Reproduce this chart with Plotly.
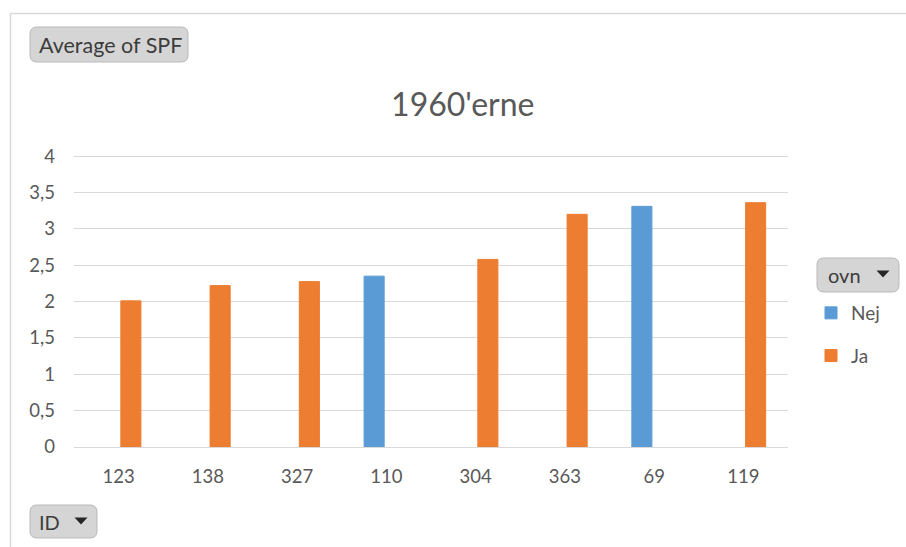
import plotly.graph_objects as go

# Pivot data: average SPF per house ID, split by "ovn" (oven) flag
ids = ["123", "138", "327", "110", "304", "363", "69", "119"]
nej_values = [None, None, None, 2.35, None, None, 3.31, None]
ja_values = [2.01, 2.22, 2.275, None, 2.58, 3.20, None, 3.36]

y_ticks = [0, 0.5, 1, 1.5, 2, 2.5, 3, 3.5, 4]

W, H = 906, 547
PL, PR, PT, PB = 74, 788, 154, 447  # plot-area edges in pixels

BLUE = "#5b9bd5"
ORANGE = "#ed7d31"
TEXT = "#595959"
GRID = "#d9d9d9"
FONT = "Lato, Calibri, sans-serif"


def px_x(x):
    return (x - PL) / (PR - PL)


def px_y(y):
    return (PB - y) / (PB - PT)


def rounded_rect(x0, y0, x1, y1, r):
    """SVG path for a rounded rectangle given in pixel coordinates (paper-mapped)."""
    X0, X1 = px_x(x0), px_x(x1)
    Y0, Y1 = px_y(y0), px_y(y1)
    rx = r / (PR - PL)
    ry = r / (PB - PT)
    return (
        f"M{X0 + rx},{Y0} L{X1 - rx},{Y0} Q{X1},{Y0} {X1},{Y0 - ry} "
        f"L{X1},{Y1 + ry} Q{X1},{Y1} {X1 - rx},{Y1} "
        f"L{X0 + rx},{Y1} Q{X0},{Y1} {X0},{Y1 + ry} "
        f"L{X0},{Y0 - ry} Q{X0},{Y0} {X0 + rx},{Y0} Z"
    )


def triangle(cx, cy, w, h):
    return (
        f"M{px_x(cx - w / 2)},{px_y(cy - h / 2)} L{px_x(cx + w / 2)},{px_y(cy - h / 2)} "
        f"L{px_x(cx)},{px_y(cy + h / 2)} Z"
    )


fig = go.Figure()
fig.add_trace(go.Bar(
    name="Nej", x=ids, y=nej_values, legendgroup="nej",
    marker=dict(color=BLUE, line=dict(color=BLUE, width=1)),
))
fig.add_trace(go.Bar(
    name="Ja", x=ids, y=ja_values, legendgroup="ja",
    marker=dict(color=ORANGE, line=dict(color=ORANGE, width=1)),
))

shapes = []
# chart frame (top and left edges)
shapes.append(dict(type="line", xref="paper", yref="paper",
                   x0=px_x(10.5), x1=px_x(W + 5), y0=px_y(13.5), y1=px_y(13.5),
                   line=dict(color=GRID, width=1.5)))
shapes.append(dict(type="line", xref="paper", yref="paper",
                   x0=px_x(10.5), x1=px_x(10.5), y0=px_y(13.5), y1=px_y(H + 5),
                   line=dict(color=GRID, width=1.5)))

# pivot field buttons
buttons = [(30, 27, 188, 62), (817, 258, 899, 292), (30, 505, 97, 538)]
for x0, y0, x1, y1 in buttons:
    shapes.append(dict(type="path", xref="paper", yref="paper",
                       path=rounded_rect(x0, y0, x1, y1, 7),
                       fillcolor="#d5d5d5", line=dict(color="#b9b9b9", width=1)))
# dropdown arrows
shapes.append(dict(type="path", xref="paper", yref="paper",
                   path=triangle(883, 274, 13, 7), fillcolor="#262626",
                   line=dict(width=0)))
shapes.append(dict(type="path", xref="paper", yref="paper",
                   path=triangle(81, 521, 13, 7), fillcolor="#262626",
                   line=dict(width=0)))

annotations = [
    dict(text="Average of SPF", xref="paper", yref="paper", x=px_x(110.5), y=px_y(45),
         xanchor="center", yanchor="middle", showarrow=False,
         font=dict(family=FONT, size=21.5, color="#3c3c3c")),
    dict(text="ovn", xref="paper", yref="paper", x=px_x(826), y=px_y(275),
         xanchor="left", yanchor="middle", showarrow=False,
         font=dict(family=FONT, size=20, color="#3c3c3c")),
    dict(text="ID", xref="paper", yref="paper", x=px_x(37), y=px_y(522),
         xanchor="left", yanchor="middle", showarrow=False,
         font=dict(family=FONT, size=20, color="#3c3c3c")),
]

fig.update_layout(
    width=W, height=H,
    margin=dict(l=PL, r=W - PR, t=PT, b=H - PB, pad=0),
    paper_bgcolor="white", plot_bgcolor="white",
    font=dict(family=FONT, size=18.5, color=TEXT),
    separators=", ",
    title=dict(text="1960'erne", xref="container", yref="container",
               x=462.8 / W, y=1 - 105 / H, xanchor="center", yanchor="middle",
               font=dict(family=FONT, size=32, color=TEXT)),
    barmode="group", bargap=0.451, bargroupgap=0.18,
    showlegend=True,
    legend=dict(xref="container", yref="container", x=811 / W, y=1 - 294 / H,
                xanchor="left", yanchor="top", traceorder="grouped",
                tracegroupgap=15, bgcolor="rgba(0,0,0,0)",
                font=dict(family=FONT, size=19, color=TEXT)),
    xaxis=dict(type="category", categoryorder="array", categoryarray=ids,
               showgrid=False, showline=False, zeroline=False, ticks="",
               ticklabelstandoff=16, tickfont=dict(size=18.5, color=TEXT)),
    yaxis=dict(range=[0, 4.03], tickvals=y_ticks, showgrid=True, gridcolor=GRID,
               gridwidth=1.4, zeroline=True, zerolinecolor=GRID, zerolinewidth=1.4,
               showline=False, ticks="", ticklabelstandoff=18,
               tickfont=dict(size=18.5, color=TEXT)),
    shapes=shapes,
    annotations=annotations,
)

fig.write_html("out.html")
